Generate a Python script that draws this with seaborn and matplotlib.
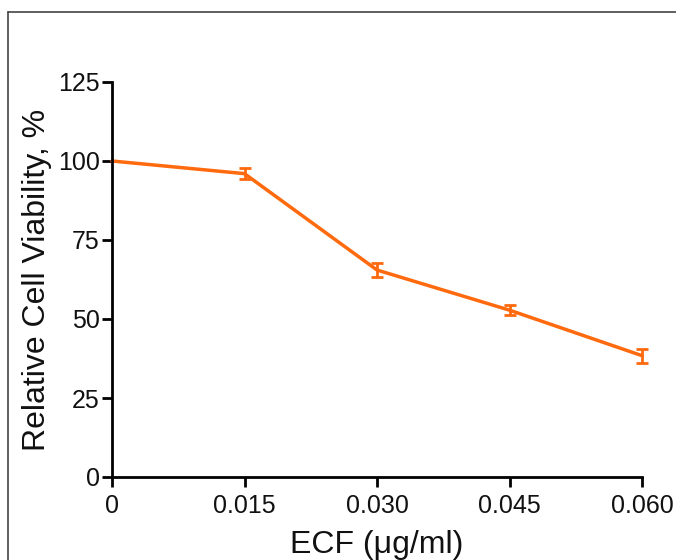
import matplotlib
matplotlib.use("Agg")
import matplotlib.pyplot as plt
import seaborn as sns
import pandas as pd
from matplotlib.lines import Line2D

sns.set_theme(style="ticks")
plt.rcParams['font.family'] = ['Liberation Sans', 'DejaVu Sans']

conc = [0, 0.015, 0.030, 0.045, 0.060]
viability = [100, 96, 65.5, 52.8, 38.4]
err = [0, 1.8, 2.2, 1.5, 2.2]
x_ticks = [0, 0.015, 0.030, 0.045, 0.060]
x_tick_labels = ["0", "0.015", "0.030", "0.045", "0.060"]
y_ticks = [0, 25, 50, 75, 100, 125]

color = "#FF6A0E"

df = pd.DataFrame({"conc": conc, "viability": viability, "err": err})

fig = plt.figure(figsize=(6.76, 5.6), dpi=100)
ax = fig.add_axes([112/676, (560-477)/560, (642-112)/676, (477-82)/560])

sns.lineplot(data=df, x="conc", y="viability", ax=ax, color=color, linewidth=2.5)
ax.errorbar(df["conc"][1:], df["viability"][1:], yerr=df["err"][1:], fmt="none",
            ecolor=color, elinewidth=2, capsize=4, capthick=2)

ax.set_xlim(0, 0.060)
ax.set_ylim(0, 125)
ax.set_xticks(x_ticks)
ax.set_xticklabels(x_tick_labels)
ax.set_yticks(y_ticks)
ax.tick_params(axis="both", direction="out", length=7, width=2, labelsize=18,
               colors="black", labelcolor="#111111", pad=2)
ax.tick_params(axis="x", pad=5)
for s in ["top", "right"]:
    ax.spines[s].set_visible(False)
for s in ["left", "bottom"]:
    ax.spines[s].set_linewidth(2)
    ax.spines[s].set_color("black")
ax.spines["left"].set_zorder(5)
ax.set_xlabel("ECF (μg/ml)", fontsize=23, labelpad=9, color="#111111")
ax.set_ylabel("Relative Cell Viability, %", fontsize=23, labelpad=4, color="#111111")
for c in ax.collections + ax.lines:
    c.set_clip_on(False)

# frame lines (left and top) of the original figure
fig.add_artist(Line2D([8/676, 8/676], [0, (560-12)/560], transform=fig.transFigure,
                      color="#444444", linewidth=1.2))
fig.add_artist(Line2D([8/676, 1], [(560-12)/560, (560-12)/560], transform=fig.transFigure,
                      color="#444444", linewidth=1.2))

fig.savefig("out.png", dpi=100)
